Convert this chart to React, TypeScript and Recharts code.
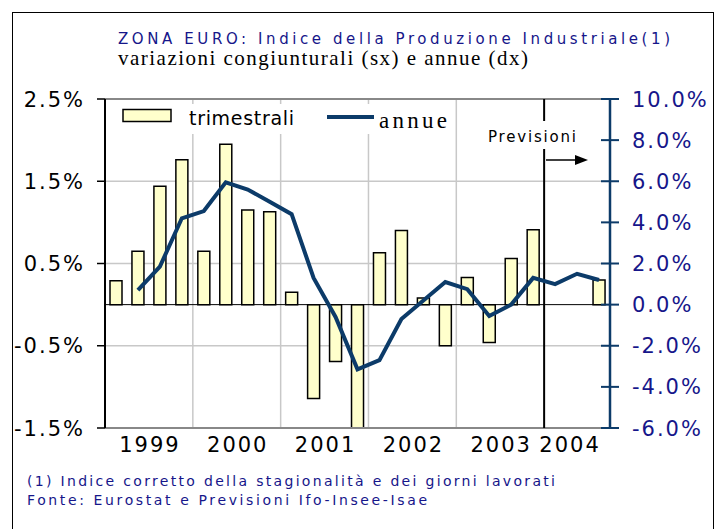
import { ComposedChart, Bar, Line, XAxis, YAxis, CartesianGrid, ReferenceLine } from 'recharts';

const quarters = [
  '1999Q1', '1999Q2', '1999Q3', '1999Q4',
  '2000Q1', '2000Q2', '2000Q3', '2000Q4',
  '2001Q1', '2001Q2', '2001Q3', '2001Q4',
  '2002Q1', '2002Q2', '2002Q3', '2002Q4',
  '2003Q1', '2003Q2', '2003Q3', '2003Q4',
  '2004Q1', '2004Q2', '2004Q3',
];

// variazioni congiunturali (sx), %
const trimestrali = [
  0.29, 0.65, 1.44, 1.76,
  0.65, 1.95, 1.15, 1.13,
  0.15, -1.14, -0.69, -1.5,
  0.63, 0.9, 0.08, -0.5,
  0.33, -0.46, 0.56, 0.91,
  null, null, 0.3,
];

// variazioni annue (dx), %
const annue = [
  null, 0.7, 1.85, 4.2,
  4.55, 5.95, 5.6, 5.0,
  4.4, 1.3, -0.6, -3.15,
  -2.7, -0.7, 0.2, 1.1,
  0.75, -0.55, 0.0, 1.3,
  1.0, 1.5, 1.2,
];

const leftTicks = [-1.5, -0.5, 0.5, 1.5, 2.5];
const rightTicks = [-6, -4, -2, 0, 2, 4, 6, 8, 10];
const yearLines = ['2000Q1', '2001Q1', '2002Q1', '2003Q1'];

const navy = '#16168a';
const lineBlue = '#0c3b69';
const sans = '"DejaVu Sans", Verdana, sans-serif';
const serif = '"Liberation Serif", "Times New Roman", serif';

const rows = quarters.map((q, i) => ({ q, trim: trimestrali[i], annue: annue[i] }));

const LeftTick = ({ x, y, payload }: any) => (
  <text x={x} y={y} dy="0.36em" textAnchor="end" fontSize={21} fontFamily={sans} letterSpacing={2} fill="#000">
    {payload.value.toFixed(1)}%
  </text>
);

const RightTick = ({ x, y, payload }: any) => (
  <g>
    <line x1={x - 31} x2={x - 13} y1={y} y2={y} stroke={lineBlue} strokeWidth={2} />
    <text x={x} y={y} dy="0.36em" textAnchor="start" fontSize={21} fontFamily={sans} letterSpacing={2} fill={navy}>
      {payload.value.toFixed(1)}%
    </text>
  </g>
);

// year label sits on the Q2 tick, nudged towards the middle of the year
const YearTick = ({ x, y, payload }: any) => {
  const v: string = payload.value;
  if (!v.endsWith('Q2')) return null;
  const year = v.slice(0, 4);
  const shift = year === '2004' ? -7 : 12;
  return (
    <text x={x + shift} y={y + 24} textAnchor="middle" fontSize={21} fontFamily={sans} letterSpacing={2} fill="#000">
      {year}
    </text>
  );
};

export default function App() {
  return (
    <div style={{ position: 'absolute', left: 0, top: 0, width: 720, height: 529, background: '#fff', overflow: 'hidden' }}>
      <ComposedChart width={720} height={529} data={rows} margin={{ top: 99, right: 10, bottom: 71, left: 45 }}>
        <CartesianGrid yAxisId="l" vertical={false} stroke="#c8c8c8" strokeWidth={1.5} />
        <XAxis dataKey="q" interval={0} axisLine={false} tickLine={false} tickSize={0} tickMargin={0} height={30} tick={<YearTick />} />
        <YAxis
          yAxisId="l"
          domain={[-1.5, 2.5]}
          ticks={leftTicks}
          allowDataOverflow
          width={60}
          tickSize={8}
          tickMargin={12}
          axisLine={{ stroke: '#000', strokeWidth: 2 }}
          tickLine={{ stroke: '#000', strokeWidth: 1.5 }}
          tick={<LeftTick />}
        />
        <YAxis
          yAxisId="r"
          orientation="right"
          domain={[-6, 10]}
          ticks={rightTicks}
          allowDataOverflow
          width={100}
          tickSize={0}
          tickMargin={22}
          axisLine={{ stroke: lineBlue, strokeWidth: 2.5 }}
          tickLine={false}
          tick={<RightTick />}
        />
        {yearLines.map((q) => (
          <ReferenceLine key={q} yAxisId="l" x={q} position="start" stroke="#c8c8c8" strokeWidth={1.5} />
        ))}
        <ReferenceLine yAxisId="l" y={2.5} stroke="#888" strokeWidth={2} />
        <ReferenceLine yAxisId="l" y={-1.5} stroke="#888" strokeWidth={2} />
        <Bar yAxisId="l" dataKey="trim" barSize={12} fill="#ffffcc" stroke="#000" strokeWidth={1.5} isAnimationActive={false} />
        <ReferenceLine yAxisId="l" y={0} stroke="#000" strokeWidth={1} />
        <ReferenceLine yAxisId="l" x="2004Q1" position="start" stroke="#000" strokeWidth={2} />
        <Line yAxisId="r" dataKey="annue" type="linear" stroke={lineBlue} strokeWidth={4} dot={false} isAnimationActive={false} />
      </ComposedChart>

      <svg width={720} height={529} style={{ position: 'absolute', left: 0, top: 0, pointerEvents: 'none' }}>
        <rect x={12.5} y={12.5} width={701} height={600} fill="none" stroke="#000" strokeWidth={1} />

        <text x={118} y={44} fontSize={15} fontFamily={sans} fill={navy} textLength={552} lengthAdjust="spacing">
          ZONA EURO: Indice della Produzione Industriale(1)
        </text>
        <text x={118} y={65} fontSize={21} fontFamily={serif} fill="#000" textLength={410} lengthAdjust="spacing">
          variazioni congiunturali (sx) e annue (dx)
        </text>

        {/* legenda */}
        <rect x={107} y={104} width={346} height={30} fill="#fff" />
        <rect x={123} y={109.5} width={48} height={12} fill="#ffffcc" stroke="#000" strokeWidth={1.5} />
        <text x={189} y={125} fontSize={19} fontFamily={sans} fill="#000" textLength={105} lengthAdjust="spacing">
          trimestrali
        </text>
        <line x1={327} x2={374} y1={117} y2={117} stroke={lineBlue} strokeWidth={4} />
        <text x={379} y={128} fontSize={23} fontFamily={serif} fill="#000" textLength={68} lengthAdjust="spacing">
          annue
        </text>

        {/* previsioni */}
        <rect x={485} y={121} width={95} height={28} fill="#fff" />
        <text x={488} y={142} fontSize={15} fontFamily={sans} fill="#000" textLength={88} lengthAdjust="spacing">
          Previsioni
        </text>
        <line x1={546} x2={577} y1={160} y2={160} stroke="#000" strokeWidth={1.5} />
        <polygon points="575,155 588,160 575,165" fill="#000" />

        <text x={27} y={486} fontSize={14} fontFamily={sans} fill={navy} textLength={528} lengthAdjust="spacing">
          (1) Indice corretto della stagionalità e dei giorni lavorati
        </text>
        <text x={27} y={505} fontSize={14} fontFamily={sans} fill={navy} textLength={400} lengthAdjust="spacing">
          Fonte: Eurostat e Previsioni Ifo-Insee-Isae
        </text>
      </svg>
    </div>
  );
}
